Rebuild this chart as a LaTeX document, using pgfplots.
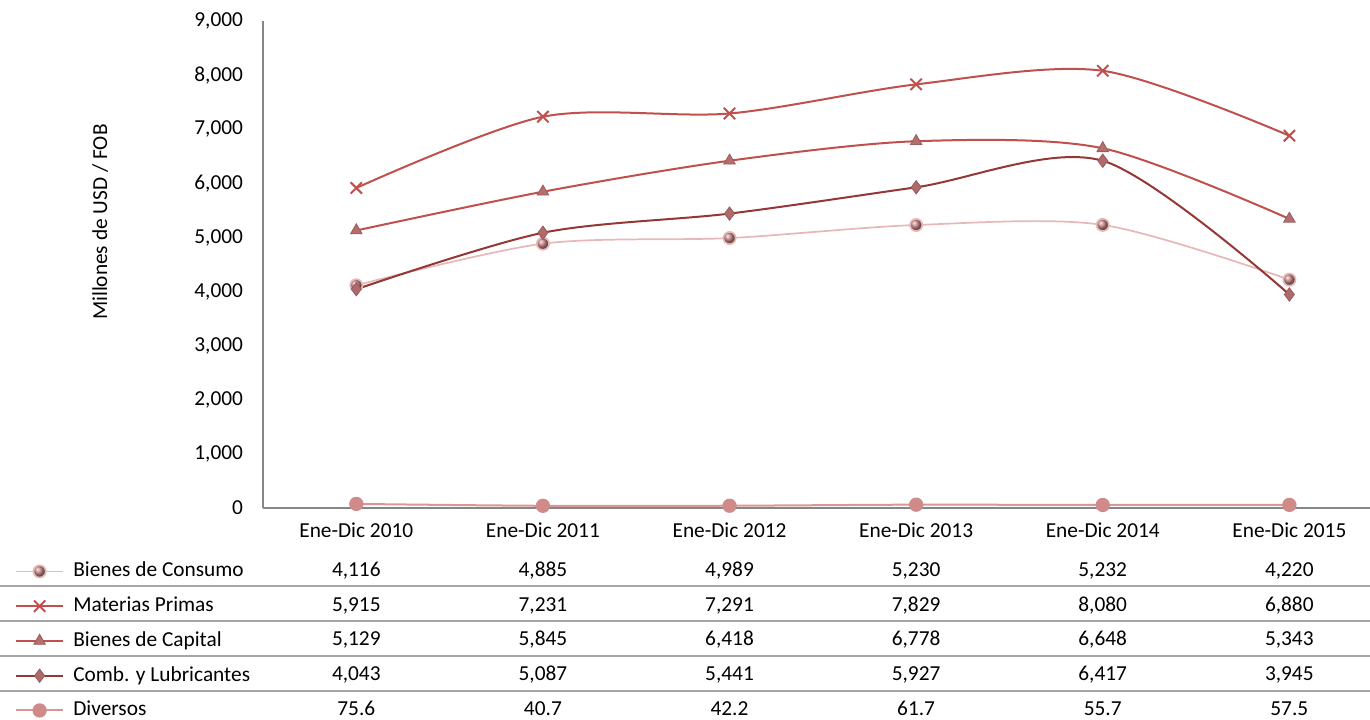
\documentclass[border=0pt]{standalone}
\usepackage{pgfplots}
\pgfplotsset{compat=1.18}
\usepackage{fontspec}
\setmainfont{Carlito}
\definecolor{axgray}{HTML}{868686}
\definecolor{tabgray}{HTML}{A6A6A6}
\definecolor{consl}{HTML}{E6B9B8}
\definecolor{consm}{HTML}{C27F81}
\definecolor{matl}{HTML}{C0504D}
\definecolor{capl}{HTML}{C0504D}
\definecolor{capm}{HTML}{B46E6E}
\definecolor{combl}{HTML}{953735}
\definecolor{combm}{HTML}{B06A6C}
\definecolor{divl}{HTML}{D99694}
\definecolor{divm}{HTML}{D08A8A}
\begin{document}
\begin{tikzpicture}
\useasboundingbox (0,0) rectangle (1027.5pt,539.25pt);
\begin{axis}[
  at={(197.25pt,158.25pt)}, anchor=south west,
  scale only axis, width=830.25pt, height=365.25pt,
  xmin=-0.5, xmax=5.432, ymin=0, ymax=9000,
  axis lines*=left,
  axis line style={axgray, line width=1.1pt},
  major tick length=0pt,
  clip=false,
  font=\fontsize{16}{19}\selectfont,
  xtick={0,...,5},
  xticklabels={Ene-Dic 2010,Ene-Dic 2011,Ene-Dic 2012,Ene-Dic 2013,Ene-Dic 2014,Ene-Dic 2015},
  xticklabel style={yshift=-7.5pt},
  ytick={0,1000,...,9000},
  scaled y ticks=false,
  /pgf/number format/1000 sep={,},
  /pgf/number format/assume math mode=true,
  yticklabel style={xshift=-11.5pt},
  ylabel={Millones de USD / FOB},
  ylabel style={at={(axis description cs:-0.147,0.587)}, anchor=center, rotate=0},
  legend style={at={(axis description cs:-0.224,-0.1078)}, anchor=north west, draw=none, fill=none, inner sep=0pt,
    row sep=10.06pt, nodes={inner sep=0pt, text height=12pt, text depth=4pt}, font=\fontsize{16}{19}\selectfont,
    /tikz/every odd column/.append style={column sep=7pt}},
  legend cell align=left,
  legend image code/.code={
    \draw[mark repeat=2,mark phase=2,#1] plot coordinates {(0pt,0pt) (17.5pt,0pt) (35pt,0pt)};},
  every axis plot/.append style={smooth, tension=0.5},
]
\addplot[consl, line width=1.3pt, mark=ball, mark size=4.6pt, mark options={ball color=consm}]
  coordinates {(0,4116) (1,4885) (2,4989) (3,5230) (4,5232) (5,4220)};
\addlegendentry{Bienes de Consumo}
\addplot[matl, line width=1.5pt, mark=x, mark size=6pt, mark options={line width=1.5pt}]
  coordinates {(0,5915) (1,7231) (2,7291) (3,7829) (4,8080) (5,6880)};
\addlegendentry{Materias Primas}
\addplot[capl, line width=1.5pt, mark=triangle*, mark size=5pt, mark options={fill=capm, draw=capm!85!black, line width=0.6pt}]
  coordinates {(0,5129) (1,5845) (2,6418) (3,6778) (4,6648) (5,5343)};
\addlegendentry{Bienes de Capital}
\addplot[combl, line width=1.5pt, mark=diamond*, mark size=5pt, mark options={fill=combm, draw=combm!85!black, line width=0.6pt}]
  coordinates {(0,4043) (1,5087) (2,5441) (3,5927) (4,6417) (5,3945)};
\addlegendentry{Comb. y Lubricantes}
\addplot[divl, line width=1.5pt, mark=*, mark size=4.6pt, mark options={fill=divm, draw=divm}]
  coordinates {(0,75.6) (1,40.7) (2,42.2) (3,61.7) (4,55.7) (5,57.5)};
\addlegendentry{Diversos}
\end{axis}
\begin{scope}[x=0.75pt, y=-0.75pt, shift={(0,539.25pt)}]
  \foreach \yy in {586,621,656,691} {\draw[tabgray, line width=1.1pt] (0,\yy) -- (1370,\yy);}
  \tikzset{tv/.style={font=\fontsize{16}{19}\selectfont, inner sep=0pt, text height=12pt, text depth=4pt, anchor=center}}
  \foreach \a/\b/\c/\d/\e/\f [count=\r from 0] in {
     {4,116}/{4,885}/{4,989}/{5,230}/{5,232}/{4,220},
     {5,915}/{7,231}/{7,291}/{7,829}/{8,080}/{6,880},
     {5,129}/{5,845}/{6,418}/{6,778}/{6,648}/{5,343},
     {4,043}/{5,087}/{5,441}/{5,927}/{6,417}/{3,945},
     {75.6}/{40.7}/{42.2}/{61.7}/{55.7}/{57.5}} {
    \pgfmathsetmacro{\ry}{571+34.75*\r}
    \node[tv] at (356.3,\ry) {\a};
    \node[tv] at (542.9,\ry) {\b};
    \node[tv] at (729.5,\ry) {\c};
    \node[tv] at (916.1,\ry) {\d};
    \node[tv] at (1102.7,\ry) {\e};
    \node[tv] at (1289.3,\ry) {\f};
  }
\end{scope}
\end{tikzpicture}
\end{document}
